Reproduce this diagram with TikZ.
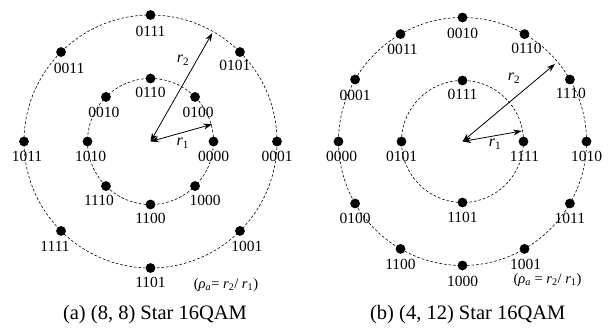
\documentclass[tikz,border=0pt]{standalone}
\usepackage{fontspec}
\setmainfont{Liberation Serif}
\usetikzlibrary{arrows.meta,calc}
\tikzset{
  dot/.style={circle,fill=black,inner sep=0pt,minimum size=9.8pt},
  ring/.style={draw,dash pattern=on 2.6pt off 2pt,line width=0.6pt},
  lab/.style={inner sep=0pt,font=\fontsize{15.5}{16}\selectfont},
  rlab/.style={inner sep=0pt,font=\fontsize{16}{17}\selectfont},
  rho/.style={inner sep=0pt,font=\fontsize{14.5}{16}\selectfont},
  captxt/.style={inner sep=0pt,font=\fontsize{20.5}{22}\selectfont},
  rad/.style={{Stealth[length=8.5pt,width=6pt]}-{Stealth[length=8.5pt,width=6pt]},line width=0.8pt},
}
\begin{document}
\begin{tikzpicture}[x=1pt,y=1pt]
\useasboundingbox (0,0) rectangle (608,329);
% ---------- (a) ----------
\coordinate (cL) at (150.5,187.5);
\draw[ring] (cL) circle[radius=126.5];
\draw[ring] (cL) circle[radius=63];
\foreach \a/\t/\dx/\dy in {90/0111/0/16.5, 45/0101/-5/13.5, 0/0001/0/15, -45/1001/7/15,
  -90/1101/0/14, -135/1111/-6/15, 180/1011/3/15, 135/0011/8/16} {
  \node[dot] (Lo\t) at ($(cL)+(\a:126.5)$) {};
  \node[lab] (Lol\t) at ($(Lo\t)+(\dx,-\dy)$) {\t};
}
\foreach \a/\t/\dx/\dy in {90/0110/0/14, 45/0100/3/15, 0/0000/0/15, -45/1000/10/14,
  -90/1100/0/14, -135/1110/-7/14, 180/1010/3/15, 135/0010/-2/15} {
  \node[dot] (Li\t) at ($(cL)+(\a:63)$) {};
  \node[lab] (Lil\t) at ($(Li\t)+(\dx,-\dy)$) {\t};
}
\coordinate (L1) at (212,204.7);
\coordinate (L2) at (212.3,296);
\draw[rad] (cL) -- (L1);
\draw[rad] (cL) -- (L2);
\node[rlab] (Lr1) at (182.7,185.7) {\textit{r}\textsubscript{1}};
\node[rlab] (Lr2) at (183,268.5) {\textit{r}\textsubscript{2}};
\node[rho] (Lrho) at (226,44) {(\textit{ρ}\textsubscript{\textit{a}}= \textit{r}\textsubscript{2}/ \textit{r}\textsubscript{1})};
\node[captxt] (Lcap) at (155,14) {(a) (8, 8) Star 16QAM};
% ---------- (b) ----------
\coordinate (cR) at (462.5,187.5);
\draw[ring] (cR) circle[radius=124];
\draw[ring] (cR) circle[radius=61];
\foreach \a/\t/\dx/\dy in {90/0010/0/16, 60/0110/2/14, 30/1110/1/14, 0/1010/0/15,
  -30/1011/0/15, -60/1001/1/16, -90/1000/0/16, -120/1100/0/16, -150/0100/0/15,
  180/0000/3/15, 150/0001/0/16, 120/0011/2/15} {
  \node[dot] (Ro\t) at ($(cR)+(\a:124)$) {};
  \node[lab] (Rol\t) at ($(Ro\t)+(\dx,-\dy)$) {\t};
}
\foreach \a/\t/\dx/\dy in {90/0111/0/14, 0/1111/1/15, -90/1101/0/15, 180/0101/0/15} {
  \node[dot] (Ri\t) at ($(cR)+(\a:61)$) {};
  \node[lab] (Ril\t) at ($(Ri\t)+(\dx,-\dy)$) {\t};
}
\coordinate (R1) at (521.7,198);
\coordinate (R2) at (555,265);
\draw[rad] (cR) -- (R1);
\draw[rad] (cR) -- (R2);
\node[rlab] (Rr1) at (495,184.7) {\textit{r}\textsubscript{1}};
\node[rlab] (Rr2) at (514,250.7) {\textit{r}\textsubscript{2}};
\node[rho] (Rrho) at (547.5,49) {(\textit{ρ}\textsubscript{\textit{a}} = \textit{r}\textsubscript{2}/ \textit{r}\textsubscript{1})};
\node[captxt] (Rcap) at (467.8,14) {(b) (4, 12) Star 16QAM};
\end{tikzpicture}
\end{document}
